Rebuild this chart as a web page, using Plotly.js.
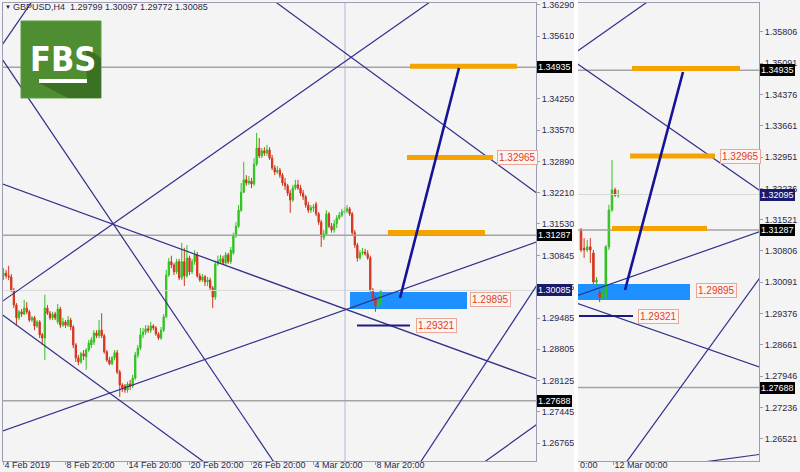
<!DOCTYPE html>
<html><head><meta charset="utf-8">
<script src="https://cdn.plot.ly/plotly-3.0.1.min.js"></script>
<style>html,body{margin:0;padding:0;background:#f4f4f4}#chart{width:800px;height:472px}</style>
</head><body><div id="chart"></div>
<script>
// ---------- DATA ----------
const leftOpen = [1.3040,1.3046,1.3040,1.3038,1.3009,1.2977,1.2949,1.2962,1.2957,1.2970,
1.2962,1.2944,1.2949,1.2931,1.2940,1.2912,1.2905,1.2970,1.2959,1.2949,
1.2957,1.2940,1.2968,1.2933,1.2940,1.2933,1.2944,1.2929,1.2890,1.2862,
1.2853,1.2871,1.2864,1.2879,1.2890,1.2896,1.2916,1.2910,1.2922,1.2910,
1.2875,1.2857,1.2849,1.2862,1.2873,1.2831,1.2803,1.2801,1.2792,1.2805,
1.2801,1.2818,1.2868,1.2883,1.2912,1.2918,1.2925,1.2922,1.2931,1.2927,
1.2914,1.2905,1.2922,1.2951,1.3042,1.3071,1.3064,1.3049,1.3071,1.3036,
1.3071,1.3040,1.3079,1.3049,1.3071,1.3086,1.3040,1.3031,1.3038,1.3027,
1.3031,1.3014,1.2994,1.3066,1.3071,1.3077,1.3068,1.3086,1.3071,1.3090,
1.3127,1.3148,1.3183,1.3222,1.3249,1.3242,1.3246,1.3240,1.3283,1.3318,
1.3301,1.3312,1.3307,1.3314,1.3296,1.3275,1.3266,1.3270,1.3259,1.3242,
1.3236,1.3220,1.3205,1.3231,1.3238,1.3231,1.3220,1.3212,1.3194,1.3183,
1.3188,1.3196,1.3175,1.3157,1.3123,1.3131,1.3175,1.3148,1.3140,1.3153,
1.3166,1.3172,1.3179,1.3181,1.3186,1.3175,1.3134,1.3107,1.3079,1.3090,
1.3092,1.3088,1.3079,1.3009,1.2992,1.2975,1.29799];
const leftHigh = [1.3057,1.3053,1.3062,1.3044,1.3014,1.2981,1.2966,1.2968,1.2988,1.2983,
1.2966,1.2953,1.2953,1.2944,1.2944,1.2916,1.2999,1.2977,1.2964,1.2962,
1.2962,1.2979,1.2973,1.2949,1.2944,1.2953,1.2949,1.2933,1.2894,1.2868,
1.2875,1.2879,1.2883,1.2901,1.2907,1.2922,1.2922,1.2944,1.2959,1.2914,
1.2879,1.2864,1.2866,1.2879,1.2879,1.2836,1.2807,1.2805,1.2810,1.2814,
1.2825,1.2875,1.2890,1.2927,1.2927,1.2933,1.2933,1.2940,1.2935,1.2931,
1.2918,1.2929,1.2957,1.3053,1.3079,1.3084,1.3068,1.3077,1.3077,1.3112,
1.3101,1.3107,1.3084,1.3077,1.3096,1.3092,1.3046,1.3044,1.3042,1.3038,
1.3036,1.3018,1.3073,1.3084,1.3086,1.3084,1.3092,1.3090,1.3103,1.3134,
1.3157,1.3194,1.3242,1.3288,1.3259,1.3257,1.3253,1.3296,1.3351,1.3340,
1.3318,1.3320,1.3325,1.3320,1.3303,1.3281,1.3279,1.3275,1.3264,1.3253,
1.3240,1.3227,1.3238,1.3249,1.3249,1.3238,1.3227,1.3216,1.3201,1.3194,
1.3196,1.3201,1.3179,1.3162,1.3140,1.3183,1.3179,1.3155,1.3162,1.3172,
1.3179,1.3186,1.3190,1.3194,1.3190,1.3179,1.3140,1.3112,1.3096,1.3101,
1.3099,1.3096,1.3084,1.3014,1.2997,1.2988,1.30097];
const leftLow = [1.3031,1.3034,1.3031,1.3005,1.2970,1.2933,1.2944,1.2951,1.2955,1.2957,
1.2940,1.2940,1.2922,1.2927,1.2905,1.2890,1.2857,1.2955,1.2944,1.2944,
1.2944,1.2935,1.2927,1.2929,1.2927,1.2929,1.2922,1.2883,1.2853,1.2846,
1.2849,1.2857,1.2836,1.2875,1.2883,1.2890,1.2905,1.2905,1.2905,1.2871,
1.2853,1.2846,1.2846,1.2857,1.2827,1.2777,1.2788,1.2786,1.2786,1.2792,
1.2796,1.2814,1.2862,1.2879,1.2905,1.2912,1.2916,1.2916,1.2922,1.2910,
1.2901,1.2901,1.2918,1.2949,1.3038,1.3057,1.3042,1.3044,1.3031,1.3031,
1.3018,1.3036,1.3042,1.3044,1.3064,1.3036,1.3027,1.3027,1.3018,1.3018,
1.3009,1.2970,1.2988,1.3062,1.3066,1.3064,1.3064,1.3066,1.3066,1.3086,
1.3123,1.3144,1.3179,1.3220,1.3236,1.3238,1.3231,1.3236,1.3279,1.3296,
1.3296,1.3301,1.3301,1.3292,1.3270,1.3259,1.3262,1.3253,1.3236,1.3227,
1.3214,1.3177,1.3201,1.3227,1.3227,1.3214,1.3205,1.3188,1.3177,1.3177,
1.3179,1.3170,1.3151,1.3103,1.3118,1.3127,1.3144,1.3134,1.3134,1.3144,
1.3162,1.3168,1.3175,1.3177,1.3170,1.3129,1.3101,1.3071,1.3075,1.3086,
1.3084,1.3075,1.3005,1.2988,1.2962,1.2970,1.29772];
const leftClose = [1.3046,1.3040,1.3038,1.3009,1.2977,1.2949,1.2962,1.2957,1.2970,1.2962,
1.2944,1.2949,1.2931,1.2940,1.2912,1.2905,1.2970,1.2959,1.2949,1.2957,
1.2949,1.2968,1.2933,1.2940,1.2933,1.2944,1.2929,1.2890,1.2862,1.2853,
1.2871,1.2866,1.2879,1.2894,1.2901,1.2916,1.2910,1.2922,1.2910,1.2875,
1.2857,1.2849,1.2862,1.2873,1.2831,1.2803,1.2796,1.2792,1.2805,1.2801,
1.2818,1.2868,1.2883,1.2912,1.2918,1.2925,1.2922,1.2931,1.2927,1.2914,
1.2905,1.2922,1.2951,1.3042,1.3071,1.3064,1.3049,1.3071,1.3036,1.3071,
1.3040,1.3079,1.3049,1.3071,1.3086,1.3040,1.3031,1.3038,1.3027,1.3031,
1.3014,1.2994,1.3066,1.3073,1.3077,1.3068,1.3086,1.3071,1.3096,1.3127,
1.3148,1.3183,1.3222,1.3249,1.3242,1.3246,1.3240,1.3283,1.3318,1.3301,
1.3312,1.3307,1.3314,1.3296,1.3275,1.3266,1.3270,1.3259,1.3242,1.3236,
1.3220,1.3205,1.3231,1.3238,1.3231,1.3220,1.3212,1.3194,1.3183,1.3188,
1.3190,1.3175,1.3157,1.3127,1.3131,1.3175,1.3148,1.3140,1.3153,1.3166,
1.3172,1.3179,1.3181,1.3186,1.3175,1.3134,1.3107,1.3079,1.3090,1.3092,
1.3088,1.3079,1.3009,1.2992,1.2975,1.2981,1.30085];

const rightOpen  = [1.3129,1.3087,1.3083,1.3090,1.3076,1.3010,1.2985,1.2976,1.2976,1.3090,1.3174,1.3220,1.3208];
const rightHigh  = [1.3133,1.3110,1.3106,1.3110,1.3083,1.3021,1.2992,1.2992,1.3094,1.3186,1.3288,1.3225,1.3220];
const rightLow   = [1.3078,1.3065,1.3078,1.3053,1.3005,1.3003,1.2964,1.2969,1.2969,1.3083,1.3170,1.3204,1.3202];
const rightClose = [1.3083,1.3083,1.3090,1.3083,1.3010,1.3014,1.2976,1.2982,1.3090,1.3174,1.3220,1.3208,1.32095];

const leftXTickVals = [0,24,48,72,96,120,144];
const leftXTickText = ['4 Feb 2019','8 Feb 20:00','14 Feb 20:00','20 Feb 20:00','26 Feb 20:00','4 Mar 20:00','8 Mar 20:00'];
const rightXTickVals = [10.5];
const rightXTickText = ['12 Mar 00:00'];
const leftYTicks = [1.36290,1.35610,1.34250,1.33570,1.32890,1.32210,1.31530,1.30845,1.30165,1.29485,1.28805,1.28125,1.27445,1.26765];
const leftYTickText = ['1.36290','1.35610','1.34250','1.33570','1.32890','1.32210','1.31530','1.30845','1.30165','1.29485','1.28805','1.28125','1.27445','1.26765'];
const rightYTicks = [1.35806,1.35091,1.34376,1.33661,1.32951,1.32236,1.31521,1.30806,1.30091,1.29376,1.28661,1.27946,1.27236,1.26521];
const rightYTickText = ['1.35806','1.35091','1.34376','1.33661','1.32951','1.32236','1.31521','1.30806','1.30091','1.29376','1.28661','1.27946','1.27236','1.26521'];

const hLevels = [1.34935, 1.31287, 1.27688];
const leftBid = 1.30085;
const rightBid = 1.32095;
const targetLabel = 1.32965, entryLabel = 1.29895, stopLabel = 1.29321;

// trend lines [x0, price0, x1, price1]
const leftTrend = [
  [-1.36,1.35181,109.36,1.25964],
  [-3.30,1.35197,14.09,1.36616],
  [-1.36,1.29812,168.98,1.36507],
  [-1.36,1.32420,209.63,1.28094],
  [-1.36,1.29594,81.87,1.26181],
  [-1.36,1.27007,209.63,1.31203],
  [101.62,1.36507,209.63,1.32073],
  [159.69,1.26203,209.63,1.30464],
  [184.47,1.26286,209.63,1.27299]
];
const rightTrend = [
  [-1.935,1.35331,25.48,1.36696],
  [-1.935,1.35117,59.35,1.32103],
  [-1.935,1.29770,59.35,1.31288],
  [-1.935,1.29628,59.35,1.28110],
  [13.87,1.25909,59.35,1.30356],
  [33.23,1.25927,59.35,1.26178]
];
const leftProjection = [153.5,1.29920,176.34,1.34920];
const rightProjection = [14.19,1.29916,32.9,1.34893];
// orange targets [xStart, xEnd, price]
const leftTargets = [[157.37,198.79,1.3496],[156.21,189.50,1.32975],[148.85,186.40,1.31344]];
const rightTargets = [[16.45,51.29,1.34973],[15.81,43.23,1.32975],[10.0,40.65,1.31320]];
// entry zone [xStart, xEnd, priceLow, priceHigh]
const leftZone = [134.14,179.44,1.29681,1.30051];
const rightZone = [-0.97,35.16,1.29687,1.30053];
// stop line [xStart, xEnd, price]
const leftStop = [136.85,157.37,1.29321];
const rightStop = [-0.65,16.77,1.29321];
const leftSeparatorX = 132.2;
const leftXRange = [-0.2,206.15], rightXRange = [-0.97,57.42];
const leftYRange = [1.26377,1.36333], rightYRange = [1.26011,1.36468];

// ---------- BUILD ----------
const NAVY = '#30308a', GRAYLINE = '#a3a3a3';
const FONT = 'Liberation Sans, Arial, sans-serif';
function segTrace(segs, xa, ya, color, width){
  const x=[], y=[];
  segs.forEach(s=>{x.push(s[0],s[2],null); y.push(s[1],s[3],null);});
  return {type:'scatter',mode:'lines',x,y,xaxis:xa,yaxis:ya,line:{color,width},hoverinfo:'skip',showlegend:false,cliponaxis:true};
}
function hTrace(levels, range, xa, ya, color, width){
  return segTrace(levels.map(p=>[range[0],p,range[1],p]), xa, ya, color, width);
}
const traces = [];
traces.push(hTrace([leftBid], leftXRange,'x','y','#d9d9d9',1));
traces.push(hTrace([rightBid], rightXRange,'x2','y2','#d9d9d9',1));
traces.push(segTrace([[leftSeparatorX,leftYRange[0],leftSeparatorX,leftYRange[1]]],'x','y','#c4c4dc',1.3));
traces.push(hTrace(hLevels, leftXRange,'x','y',GRAYLINE,1.5));
traces.push(hTrace(hLevels, rightXRange,'x2','y2',GRAYLINE,1.5));
traces.push(segTrace(leftTrend,'x','y',NAVY,1.2));
traces.push(segTrace(rightTrend,'x2','y2',NAVY,1.2));
const candleStyle = {
  increasing:{line:{color:'#2fc21f',width:1},fillcolor:'#2fc21f'},
  decreasing:{line:{color:'#d5341c',width:1},fillcolor:'#d5341c'},
  whiskerwidth:0, hoverinfo:'skip', showlegend:false
};
traces.push(Object.assign({type:'candlestick',x:leftOpen.map((_,i)=>i),open:leftOpen,high:leftHigh,low:leftLow,close:leftClose,xaxis:'x',yaxis:'y'},candleStyle));
traces.push(Object.assign({type:'candlestick',x:rightOpen.map((_,i)=>i),open:rightOpen,high:rightHigh,low:rightLow,close:rightClose,xaxis:'x2',yaxis:'y2'},candleStyle));
traces.push(segTrace(leftTargets.map(t=>[t[0],t[2],t[1],t[2]]),'x','y','#f5a300',5));
traces.push(segTrace(rightTargets.map(t=>[t[0],t[2],t[1],t[2]]),'x2','y2','#f5a300',5));
traces.push(segTrace([[leftStop[0],leftStop[2],leftStop[1],leftStop[2]]],'x','y','#1c1c80',2));
traces.push(segTrace([[rightStop[0],rightStop[2],rightStop[1],rightStop[2]]],'x2','y2','#1c1c80',2));
traces.push(segTrace([leftProjection],'x','y','#141496',2.6));
traces.push(segTrace([rightProjection],'x2','y2','#141496',2.6));

const shapes = [
  {type:'rect',xref:'x',yref:'y',x0:leftZone[0],x1:leftZone[1],y0:leftZone[2],y1:leftZone[3],fillcolor:'#1e90ff',line:{width:0},layer:'below'},
  {type:'rect',xref:'x2',yref:'y2',x0:rightZone[0],x1:rightZone[1],y0:rightZone[2],y1:rightZone[3],fillcolor:'#1e90ff',line:{width:0},layer:'below'},
  {type:'rect',xref:'paper',yref:'paper',x0:0.7553,x1:0.7606,y0:-0.03,y1:1.01,fillcolor:'#ffffff',line:{width:0},layer:'above'},
  {type:'rect',xref:'paper',yref:'paper',x0:0.02381,x1:0.12963,y0:0.79258,y1:0.96070,fillcolor:'#4e8d31',line:{color:'#5d9e3a',width:1},layer:'above'},
  {type:'path',xref:'paper',yref:'paper',path:'M0.1098,0.9032 L0.12963,0.8800 L0.12963,0.79258 L0.0860,0.79258 L0.0476,0.8253 L0.1111,0.8253 Z',fillcolor:'#3b7123',line:{width:0},layer:'above'},
  {type:'rect',xref:'paper',yref:'paper',x0:0.04762,x1:0.11111,y0:0.82533,y1:0.83406,fillcolor:'#ffffff',line:{width:0},layer:'above'}
];

function tag(text, xpaper, yref, yval, bg){
  return {xref:'paper',yref,x:xpaper,y:yval,xanchor:'left',yanchor:'middle',text,showarrow:false,
    font:{family:FONT,size:9,color:'#ffffff'},bgcolor:bg,borderpad:1,bordercolor:bg,borderwidth:0};
}
function orderTag(text, xref, yref, x, yval){
  return {xref,yref,x,y:yval,xanchor:'left',yanchor:'middle',text,showarrow:false,
    font:{family:FONT,size:10,color:'#e0411f'},bgcolor:'#fbf4f2',bordercolor:'#eaa797',borderwidth:1,borderpad:1};
}
const fmt = v=>v.toFixed(5);
const annotations = [
  tag(fmt(hLevels[0]),0.7063,'y',hLevels[0],'#000000'),
  tag(fmt(hLevels[1]),0.7063,'y',hLevels[1],'#000000'),
  tag(fmt(leftBid),0.7063,'y',leftBid,'#1a1a6a'),
  tag(fmt(hLevels[2]),0.7063,'y',hLevels[2],'#000000'),
  tag(fmt(hLevels[0]),1.0013,'y2',hLevels[0],'#000000'),
  tag(fmt(rightBid),1.0013,'y2',rightBid,'#1a1a6a'),
  tag(fmt(hLevels[1]),1.0013,'y2',hLevels[1],'#000000'),
  tag(fmt(hLevels[2]),1.0013,'y2',hLevels[2],'#000000'),
  orderTag(fmt(targetLabel),'x','y',191.05,targetLabel),
  orderTag(fmt(entryLabel),'x','y',180.6,entryLabel),
  orderTag(fmt(stopLabel),'x','y',159.69,stopLabel),
  orderTag(fmt(targetLabel),'x2','y2',44.84,targetLabel),
  orderTag(fmt(entryLabel),'x2','y2',37.1,entryLabel),
  orderTag(fmt(stopLabel),'x2','y2',18.39,stopLabel),
  {xref:'paper',yref:'paper',x:0.0,y:0.992,xanchor:'left',yanchor:'middle',showarrow:false,
   text:'▼',font:{family:FONT,size:6,color:'#1a1a3a'}},
  {xref:'paper',yref:'paper',x:0.0105,y:0.992,xanchor:'left',yanchor:'middle',showarrow:false,
   text:'GBPUSD,H4  1.29799 1.30097 1.29772 1.30085',font:{family:FONT,size:9,color:'#2a2a4a'}},
  {xref:'paper',yref:'paper',x:0.0794,y:0.8777,xanchor:'center',yanchor:'middle',showarrow:false,
   text:'<b>FBS</b>',font:{family:'DejaVu Sans Condensed, DejaVu Sans, sans-serif',size:34,color:'#ffffff'}},
  {xref:'paper',yref:'paper',x:1.0013,y:1.013,xanchor:'left',yanchor:'middle',showarrow:false,
   text:'1.36521',font:{family:FONT,size:9,color:'#3a3a5a'}},
  {xref:'x2',yref:'paper',x:rightXRange[0],y:-0.0095,xanchor:'left',yanchor:'middle',showarrow:false,
   text:'0:00',font:{family:FONT,size:9,color:'#2a2a4a'}}
];

const axCommon = {showgrid:false,zeroline:false,showline:true,linecolor:'#9c9cb4',linewidth:1,mirror:true,
  ticks:'outside',ticklen:3,tickcolor:'#9c9cb4',tickfont:{family:FONT,size:9,color:'#2a2a4a'},fixedrange:true};
const layout = {
  width:800,height:472,margin:{l:3,r:41,t:3,b:11,pad:0},
  paper_bgcolor:'#f4f4f4',plot_bgcolor:'#f4f4f4',showlegend:false,hovermode:false,
  xaxis:Object.assign({},axCommon,{domain:[0,0.7050],range:leftXRange,anchor:'y',tickmode:'array',tickvals:leftXTickVals,ticktext:leftXTickText,ticklabelposition:'outside right',ticklabelstandoff:-5,tickangle:0,rangeslider:{visible:false}}),
  yaxis:Object.assign({},axCommon,{domain:[0,1],range:leftYRange,anchor:'x',side:'right',tickmode:'array',tickvals:leftYTicks,ticktext:leftYTickText}),
  xaxis2:Object.assign({},axCommon,{domain:[0.7606,1],range:rightXRange,anchor:'y2',tickmode:'array',tickvals:rightXTickVals,ticktext:rightXTickText,ticklabelposition:'outside right',ticklabelstandoff:-5,tickangle:0,rangeslider:{visible:false}}),
  yaxis2:Object.assign({},axCommon,{domain:[0,1],range:rightYRange,anchor:'x2',side:'right',tickmode:'array',tickvals:rightYTicks,ticktext:rightYTickText}),
  shapes, annotations
};
Plotly.newPlot('chart', traces, layout, {displayModeBar:false,staticPlot:true});
</script></body></html>
